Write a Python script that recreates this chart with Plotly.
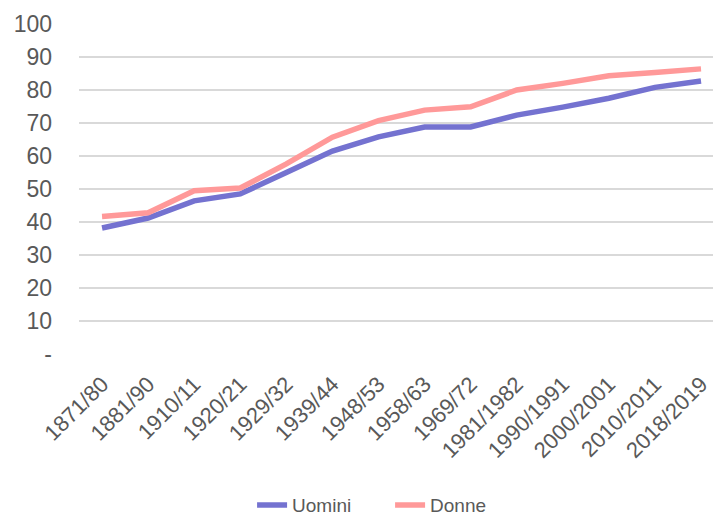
import plotly.graph_objects as go

categories = ["1871/80", "1881/90", "1910/11", "1920/21", "1929/32", "1939/44", "1948/53",
              "1958/63", "1969/72", "1981/1982", "1990/1991", "2000/2001", "2010/2011", "2018/2019"]
uomini = [38.2, 41.2, 46.4, 48.5, 55.0, 61.5, 65.8, 68.8, 68.8, 72.4, 74.8, 77.5, 80.8, 82.7]
donne = [41.7, 42.8, 49.5, 50.3, 57.6, 65.7, 70.7, 73.9, 74.9, 80.0, 82.0, 84.3, 85.3, 86.4]
ytick_vals = [0, 10, 20, 30, 40, 50, 60, 70, 80, 90, 100]
ytick_text = ["-", "10", "20", "30", "40", "50", "60", "70", "80", "90", "100"]

fig = go.Figure()
fig.add_trace(go.Scatter(x=categories, y=uomini, name="Uomini", mode="lines",
                         line=dict(color="#7472D0", width=5.5)))
fig.add_trace(go.Scatter(x=categories, y=donne, name="Donne", mode="lines",
                         line=dict(color="#FF9999", width=5.5)))

fig.update_layout(
    width=713, height=516,
    margin=dict(l=79, r=0, t=24, b=162, autoexpand=False),
    paper_bgcolor="white", plot_bgcolor="white",
    font=dict(family="Liberation Sans, Arial, sans-serif", color="#595959", size=20),
    showlegend=True,
    legend=dict(orientation="h", x=0.273, xanchor="left", y=-0.458, yanchor="middle",
                font=dict(size=19), tracegroupgap=0, entrywidth=93),
    xaxis=dict(type="category", range=[-0.5, 13.26], tickangle=-45, showgrid=False,
               tickfont=dict(size=22), ticks="", showline=False, automargin=False,
               ticklabelstandoff=12),
    yaxis=dict(range=[0, 100], tickvals=ytick_vals, ticktext=ytick_text,
               showgrid=True, gridcolor="#D9D9D9", gridwidth=1.5, zeroline=False,
               ticks="", ticklabelstandoff=26, tickfont=dict(size=23), automargin=False),
)
fig.write_html("out.html", config={"displayModeBar": False},
               post_script="document.body.style.margin='0';")
